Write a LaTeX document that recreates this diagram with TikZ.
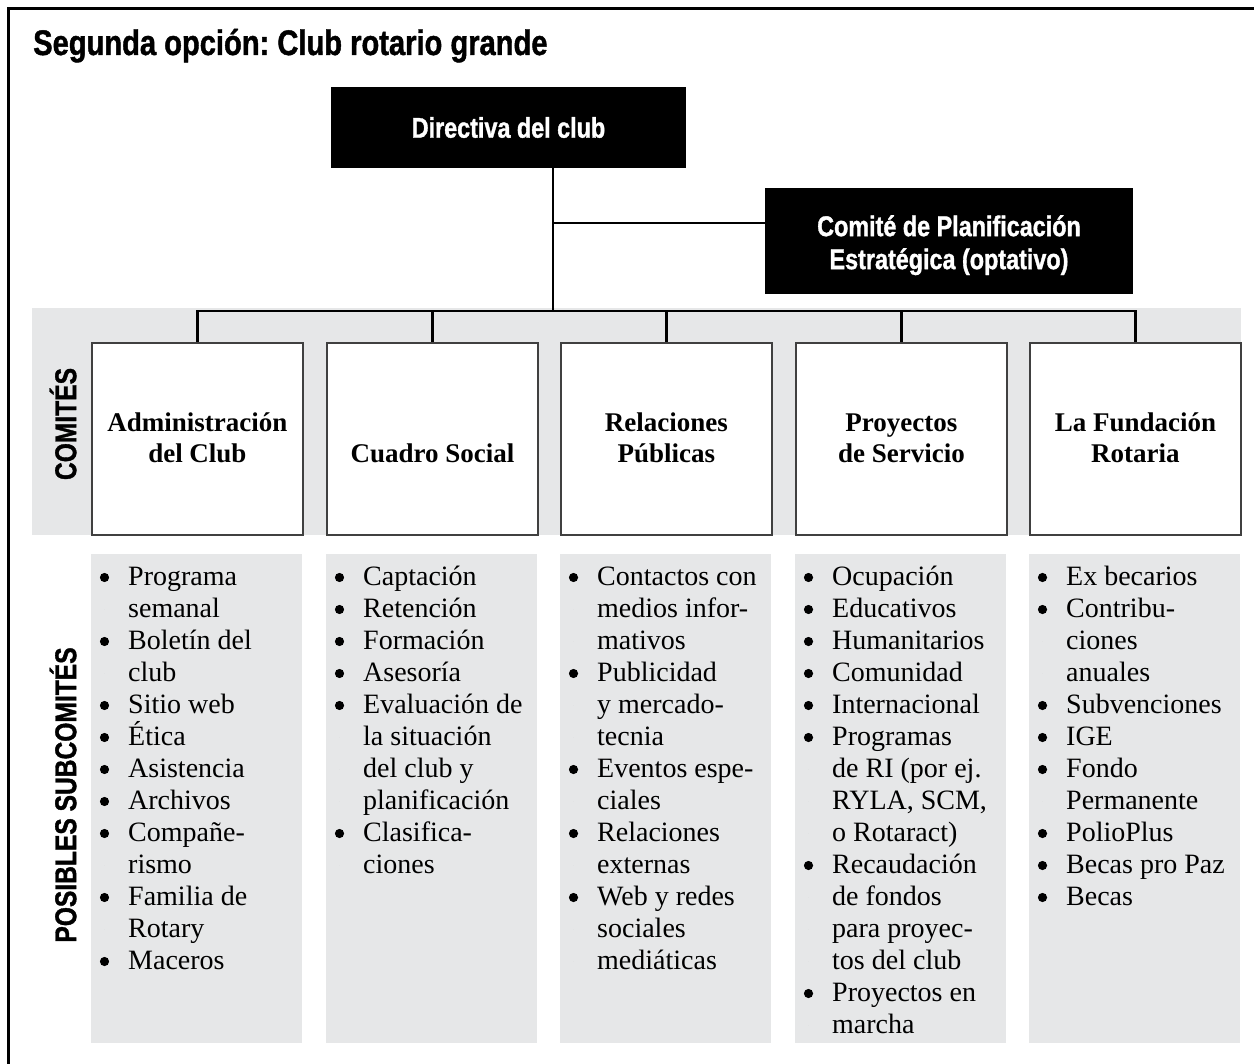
\documentclass[tikz,border=0pt]{standalone}
\usepackage{fontspec}
\setmainfont{Liberation Serif}
\newfontfamily\cs[FakeStretch=0.82,FakeBold=1.2]{Liberation Sans}
\definecolor{band}{HTML}{E6E7E8}
\frenchspacing
\newcommand\mklist[3]{\foreach \r/\t [count=\i from 0] in {#3} {\node[lst] (#1-\i) at (#2, {585+32*\i}) {\t}; \fill ({#2-23.5}, {577.5+32*\i}) circle (\r pt);}}
\begin{document}
\begin{tikzpicture}[x=1pt,y=-1pt,
  hdr/.style={font=\cs\bfseries\fontsize{28.5}{33}\selectfont},
  blackbox/.style={fill=black, text=white, inner sep=0pt, hdr, align=center},
  combox/.style={draw=black!75, line width=1.8pt, fill=white, minimum width=211pt, minimum height=192pt, inner sep=0pt, anchor=north west},
  subbox/.style={fill=band, minimum width=211pt, minimum height=489pt, inner sep=0pt, anchor=north west},
  conn/.style={line width=2.6pt},
  lbl/.style={font=\bfseries\fontsize{27}{31}\selectfont, anchor=base, inner sep=0pt},
  lst/.style={font=\fontsize{28}{32}\selectfont, anchor=base west, inner sep=0pt},
  side/.style={font=\cs\bfseries\fontsize{30}{32}\selectfont, rotate=90, inner sep=0pt}]
\useasboundingbox (0,0) rectangle (1254,1064);
\clip (0,0) rectangle (1254,1064);
% frame
\draw[line width=3pt] (8.5,1080) -- (8.5,8.5) -- (1270,8.5);
% title
\node[anchor=base west, inner sep=0pt, font=\cs\bfseries\fontsize{35.5}{40}\selectfont] (title) at (33,55) {Segunda opción: Club rotario grande};
% top boxes
\node[blackbox, minimum width=355pt, minimum height=81pt] (dir) at (508.5,127.5) {Directiva del club};
\node[blackbox, minimum width=368pt, minimum height=106pt] (cpe) at (949,241) {\raisebox{-5pt}[\height][\depth]{\begin{tabular}[c]{@{}c@{}}Comité de Planificación\\Estratégica (optativo)\end{tabular}}};
% band
\fill[band] (32,308) rectangle (1241,535);
% committee boxes
\node[combox] (c1) at (91,342) {};
\node[combox] (c2) at (326,342) {};
\node[combox] (c3) at (560,342) {};
\node[combox] (c4) at (795,342) {};
\node[combox] (c5) at (1029,342) {};
% connectors
\coordinate (trunk) at (553,311);
\coordinate (branch) at (553,223);
\draw[conn] (dir.south -| trunk) -- (trunk);
\draw[conn] (branch) -- (branch -| cpe.west);
\draw[conn] (c1.north) -- (c1.north |- trunk) -- (c5.north |- trunk) -- (c5.north);
\draw[conn] (c2.north) -- (c2.north |- trunk);
\draw[conn] (c3.north) -- (c3.north |- trunk);
\draw[conn] (c4.north) -- (c4.north |- trunk);
% committee labels
\coordinate (lb) at (0,463);
\node[lbl] (c1t) at (c1.center |- lb) {\begin{tabular}[b]{@{}c@{}}Administración\\del Club\end{tabular}};
\node[lbl] (c2t) at (c2.center |- lb) {Cuadro Social};
\node[lbl] (c3t) at (c3.center |- lb) {\begin{tabular}[b]{@{}c@{}}Relaciones\\Públicas\end{tabular}};
\node[lbl] (c4t) at (c4.center |- lb) {\begin{tabular}[b]{@{}c@{}}Proyectos\\de Servicio\end{tabular}};
\node[lbl] (c5t) at (c5.center |- lb) {\begin{tabular}[b]{@{}c@{}}La Fundación\\Rotaria\end{tabular}};
% side labels
\node[side] (lc) at (63,424) {COMITÉS};
\node[side] (ls) at (63,795) {POSIBLES SUBCOMITÉS};
% subcommittee boxes
\node[subbox] (s1) at (91,554) {};
\node[subbox] (s2) at (326,554) {};
\node[subbox] (s3) at (560,554) {};
\node[subbox] (s4) at (795,554) {};
\node[subbox] (s5) at (1029,554) {};
% lists (radius / line)
\mklist{a}{128}{4.6/Programa,0/semanal,4.6/Boletín del,0/club,4.6/Sitio web,4.6/Ética,4.6/Asistencia,4.6/Archivos,4.6/Compañe-,0/rismo,4.6/Familia de,0/Rotary,4.6/Maceros}
\mklist{b}{363}{4.6/Captación,4.6/Retención,4.6/Formación,4.6/Asesoría,4.6/Evaluación de,0/la situación,0/del club y,0/planificación,4.6/Clasifica-,0/ciones}
\mklist{c}{597}{4.6/Contactos con,0/medios infor-,0/mativos,4.6/Publicidad,0/y mercado-,0/tecnia,4.6/Eventos espe-,0/ciales,4.6/Relaciones,0/externas,4.6/Web y redes,0/sociales,0/mediáticas}
\mklist{d}{832}{4.6/Ocupación,4.6/Educativos,4.6/Humanitarios,4.6/Comunidad,4.6/Internacional,4.6/Programas,0/de RI (por ej.,0/{RYLA, SCM,},0/o Rotaract),4.6/Recaudación,0/de fondos,0/para proyec-,0/tos del club,4.6/Proyectos en,0/marcha}
\mklist{e}{1066}{4.6/Ex becarios,4.6/Contribu-,0/ciones,0/anuales,4.6/Subvenciones,4.6/IGE,4.6/Fondo,0/Permanente,4.6/PolioPlus,4.6/Becas pro Paz,4.6/Becas}
\end{tikzpicture}
\end{document}
